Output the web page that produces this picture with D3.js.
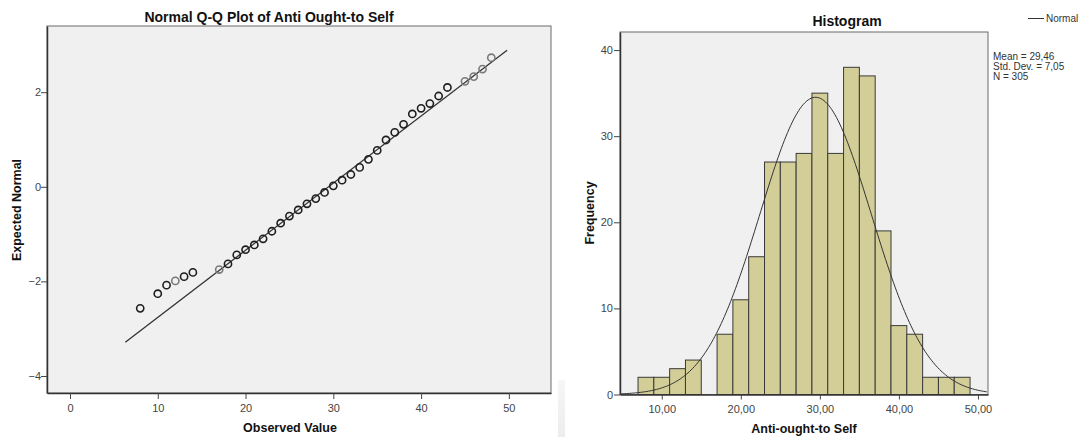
<!DOCTYPE html>
<html>
<head>
<meta charset="utf-8">
<script src="https://cdn.jsdelivr.net/npm/d3@7"></script>
<style>
  body { margin: 0; background: #fff; }
  text { font-family: Arial, "Liberation Sans", sans-serif; }
</style>
</head>
<body>
<script>
// Q-Q plot data
var qqObserved = [8, 10, 11, 12, 13, 14, 17, 18, 19, 20, 21, 22, 23, 24, 25, 26, 27, 28, 29, 30,
                  31, 32, 33, 34, 35, 36, 37, 38, 39, 40, 41, 42, 43, 45, 46, 47, 48];
var qqExpected = [-2.57, -2.26, -2.08, -1.99, -1.90, -1.81, -1.75, -1.63, -1.44, -1.33, -1.23, -1.10,
                  -0.94, -0.77, -0.62, -0.49, -0.36, -0.25, -0.12, 0.02, 0.14, 0.26, 0.41, 0.58,
                  0.77, 0.99, 1.15, 1.32, 1.54, 1.66, 1.76, 1.92, 2.10, 2.23, 2.33, 2.49, 2.73];
var qqLight = [12, 17, 45, 46, 47, 48];
var qqLineRange = [6.3, 49.8];
var qqXTicks = [0, 10, 20, 30, 40, 50];
var qqYTicks = [-4, -2, 0, 2];

// histogram data
var binStarts = [7, 9, 11, 13, 15, 17, 19, 21, 23, 25, 27, 29, 31, 33, 35, 37, 39, 41, 43, 45, 47];
var binCounts = [2, 2, 3, 4, 0, 7, 11, 16, 27, 27, 28, 35, 28, 38, 37, 19, 8, 7, 2, 2, 2];
var binWidth = 2;
var histXTicks = [10, 20, 30, 40, 50];
var histYTicks = [0, 10, 20, 30, 40];
var stats = { mean: 29.46, sd: 7.05, n: 305 };

var svg = d3.select('body').append('svg')
    .attr('width', 1080)
    .attr('height', 437);

// faint strip between the two pictures
var grad = svg.append('defs').append('linearGradient')
    .attr('id', 'strip').attr('x1', 0).attr('y1', 0).attr('x2', 0).attr('y2', 1);
grad.append('stop').attr('offset', 0).attr('stop-color', '#f6f6f6');
grad.append('stop').attr('offset', 1).attr('stop-color', '#ededed');
svg.append('rect')
    .attr('x', 558).attr('y', 380).attr('width', 7).attr('height', 57)
    .attr('fill', 'url(#strip)');

// ---------- Q-Q plot ----------
var qx = d3.scaleLinear().domain([-2.62, 54.8]).range([47, 551]);
var qy = d3.scaleLinear().domain([-4.36, 3.40]).range([393, 26]);

svg.append('rect')
    .attr('x', 47).attr('y', 26).attr('width', 504).attr('height', 367)
    .attr('fill', '#f0f0f0').attr('stroke', '#6a6a6a').attr('stroke-width', 1);

var qqX = svg.append('g').attr('transform', 'translate(0,393)')
    .call(d3.axisBottom(qx).tickValues(qqXTicks).tickSize(6).tickSizeOuter(0));
var qqY = svg.append('g').attr('transform', 'translate(47,0)')
    .call(d3.axisLeft(qy).tickValues(qqYTicks).tickSize(6).tickSizeOuter(0));

[qqX, qqY].forEach(function(g) {
    g.select('.domain').attr('stroke', '#333').attr('stroke-width', 1.5);
    g.selectAll('.tick line').attr('stroke', '#444');
    g.selectAll('.tick text').attr('fill', '#444').attr('font-size', 11)
        .attr('font-family', 'Arial, "Liberation Sans", sans-serif');
});
qqX.selectAll('.tick text').attr('dy', '0.95em');
qqY.selectAll('.tick text').attr('x', -6);

svg.append('line')
    .attr('x1', qx(qqLineRange[0])).attr('y1', qy((qqLineRange[0] - stats.mean) / stats.sd))
    .attr('x2', qx(qqLineRange[1])).attr('y2', qy((qqLineRange[1] - stats.mean) / stats.sd))
    .attr('stroke', '#333').attr('stroke-width', 1.3);

svg.selectAll('circle.qq').data(qqObserved).enter().append('circle')
    .attr('class', 'qq')
    .attr('cx', function(d) { return qx(d); })
    .attr('cy', function(d, i) { return qy(qqExpected[i]); })
    .attr('r', 3.6)
    .attr('fill', 'none')
    .attr('stroke', function(d) { return qqLight.indexOf(d) >= 0 ? '#7a7a7a' : '#1e1e1e'; })
    .attr('stroke-width', 1.6);

svg.append('text')
    .attr('x', 269).attr('y', 22).attr('text-anchor', 'middle')
    .attr('font-size', 14).attr('font-weight', 'bold').attr('fill', '#111')
    .text('Normal Q-Q Plot of Anti Ought-to Self');

svg.append('text')
    .attr('x', 290).attr('y', 432).attr('text-anchor', 'middle')
    .attr('font-size', 12.5).attr('font-weight', 'bold').attr('fill', '#111')
    .text('Observed Value');

svg.append('text')
    .attr('transform', 'translate(21,210) rotate(-90)').attr('text-anchor', 'middle')
    .attr('font-size', 12.5).attr('font-weight', 'bold').attr('fill', '#111')
    .text('Expected Normal');

// ---------- Histogram ----------
var hx = d3.scaleLinear().domain([4.72, 51.27]).range([620, 988]);
var hy = d3.scaleLinear().domain([0, 42.1]).range([394.5, 32]);

svg.append('rect')
    .attr('x', 620).attr('y', 32).attr('width', 368).attr('height', 362.5)
    .attr('fill', '#f0f0f0').attr('stroke', '#6a6a6a').attr('stroke-width', 1);

svg.selectAll('rect.bar').data(binCounts).enter().append('rect')
    .attr('class', 'bar')
    .attr('x', function(d, i) { return hx(binStarts[i]); })
    .attr('y', function(d) { return hy(d); })
    .attr('width', function(d, i) { return hx(binStarts[i] + binWidth) - hx(binStarts[i]); })
    .attr('height', function(d) { return hy(0) - hy(d); })
    .attr('fill', '#d3ce97')
    .attr('stroke', function(d) { return d > 0 ? '#3a3a3a' : 'none'; })
    .attr('stroke-width', 1);

var curveXs = d3.range(hx.domain()[0], hx.domain()[1] + 0.01, 0.2);
var curveLine = d3.line()
    .x(function(d) { return hx(d); })
    .y(function(d) {
        var z = (d - stats.mean) / stats.sd;
        return hy(stats.n * binWidth * Math.exp(-0.5 * z * z) / (stats.sd * Math.sqrt(2 * Math.PI)));
    });
svg.append('path').datum(curveXs)
    .attr('d', curveLine)
    .attr('fill', 'none').attr('stroke', '#333').attr('stroke-width', 1);

var hX = svg.append('g').attr('transform', 'translate(0,394.5)')
    .call(d3.axisBottom(hx).tickValues(histXTicks).tickSize(5).tickSizeOuter(0)
        .tickFormat(function(d) { return d3.format('.2f')(d).replace('.', ','); }));
var hY = svg.append('g').attr('transform', 'translate(620,0)')
    .call(d3.axisLeft(hy).tickValues(histYTicks).tickSize(6).tickSizeOuter(0));

[hX, hY].forEach(function(g) {
    g.select('.domain').attr('stroke', '#333').attr('stroke-width', 1.5);
    g.selectAll('.tick line').attr('stroke', '#444');
    g.selectAll('.tick text').attr('fill', '#444').attr('font-size', 11)
        .attr('font-family', 'Arial, "Liberation Sans", sans-serif');
});
hX.selectAll('.tick text').attr('dy', '0.95em');
hY.selectAll('.tick text').attr('x', -7);

svg.append('text')
    .attr('x', 847).attr('y', 26).attr('text-anchor', 'middle')
    .attr('font-size', 14).attr('font-weight', 'bold').attr('fill', '#111')
    .text('Histogram');

svg.append('text')
    .attr('x', 804).attr('y', 433).attr('text-anchor', 'middle')
    .attr('font-size', 12.5).attr('font-weight', 'bold').attr('fill', '#111')
    .text('Anti-ought-to Self');

svg.append('text')
    .attr('transform', 'translate(594,213) rotate(-90)').attr('text-anchor', 'middle')
    .attr('font-size', 12.5).attr('font-weight', 'bold').attr('fill', '#111')
    .text('Frequency');

// legend + statistics
svg.append('line')
    .attr('x1', 1028).attr('y1', 18.5).attr('x2', 1044).attr('y2', 18.5)
    .attr('stroke', '#333').attr('stroke-width', 1);
svg.append('text')
    .attr('x', 1046).attr('y', 22)
    .attr('font-size', 10).attr('fill', '#333')
    .text('Normal');

var statLines = [
    'Mean = ' + d3.format('.2f')(stats.mean).replace('.', ','),
    'Std. Dev. = ' + d3.format('.2f')(stats.sd).replace('.', ','),
    'N = ' + stats.n
];
svg.selectAll('text.stat').data(statLines).enter().append('text')
    .attr('class', 'stat')
    .attr('x', 993)
    .attr('y', function(d, i) { return 60 + i * 10; })
    .attr('font-size', 10).attr('fill', '#333')
    .text(function(d) { return d; });
</script>
</body>
</html>
